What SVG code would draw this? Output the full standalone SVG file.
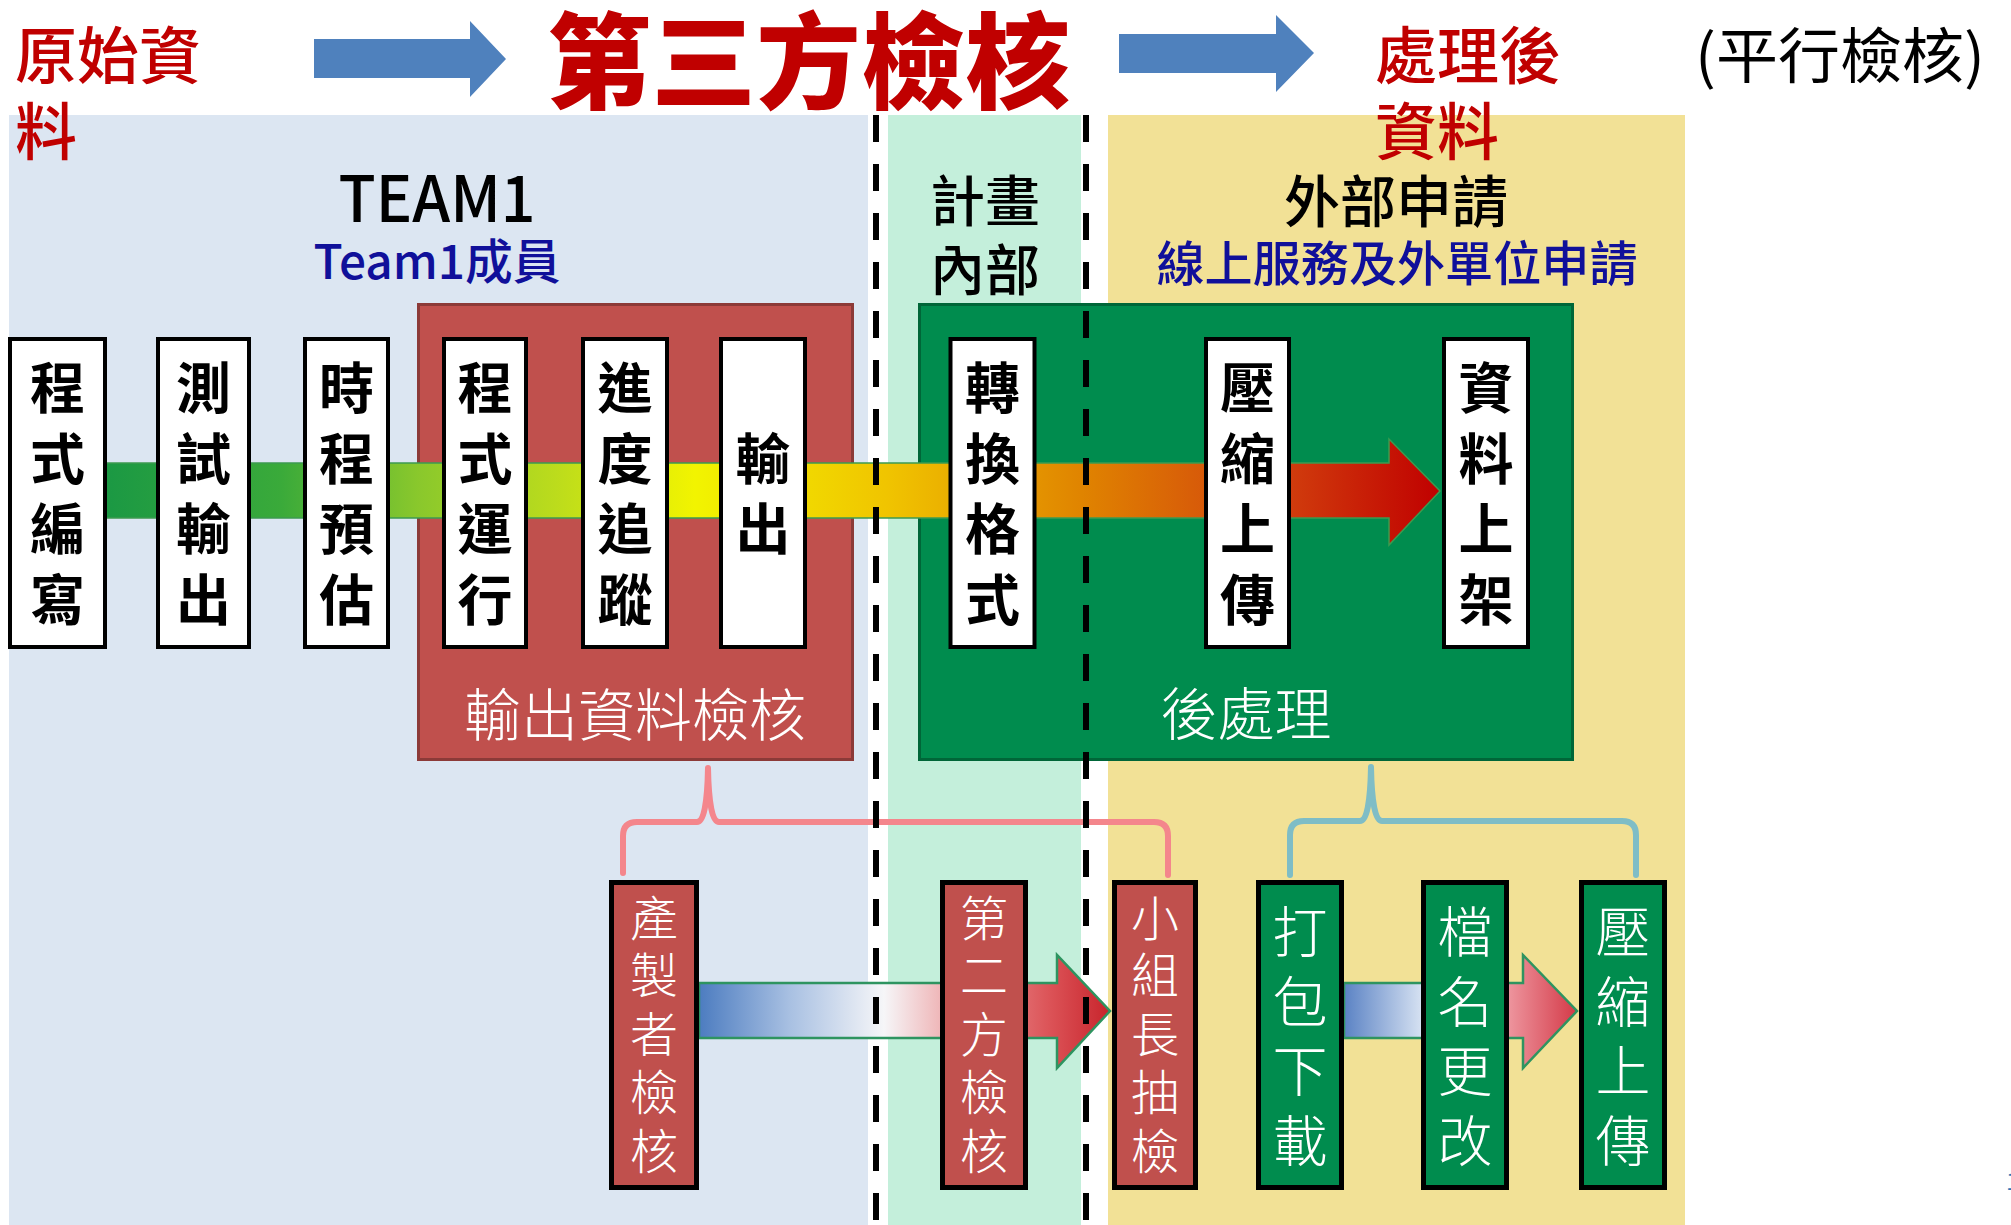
<svg xmlns="http://www.w3.org/2000/svg" width="2011" height="1225" viewBox="0 0 2011 1225">
<style>
.cjk{font-family:"Noto Sans CJK TC","Noto Sans CJK SC","Noto Sans",sans-serif}
.boxw{fill:#ffffff;stroke:#000;stroke-width:4}
.boxr{fill:#c0504d;stroke:#000;stroke-width:5}
.boxg{fill:#008c4e;stroke:#000;stroke-width:5}
.bt{font-family:"Noto Sans CJK TC","Noto Sans CJK SC",sans-serif;font-size:55px;font-weight:700;fill:#000;text-anchor:middle}
.rt{font-family:"Noto Sans CJK TC","Noto Sans CJK SC",sans-serif;font-size:48px;font-weight:300;fill:#fff;text-anchor:middle}
.gt{font-family:"Noto Sans CJK TC","Noto Sans CJK SC",sans-serif;font-size:55px;font-weight:300;fill:#fff;text-anchor:middle}
.lbl{font-family:"Noto Sans CJK TC","Noto Sans CJK SC",sans-serif;font-size:57px;font-weight:300;fill:#fff;text-anchor:middle}
.red{fill:#c00000;font-weight:500}
.navy{fill:#10109a;font-weight:500}
.dash{stroke:#000;stroke-width:6;stroke-dasharray:27 22;fill:none}
.brace{fill:none;stroke-width:6;stroke-linecap:round;stroke-linejoin:round}
.bluearrow{fill:#4f81bd}
</style>
<defs>
<linearGradient id="band" gradientUnits="userSpaceOnUse" x1="60" y1="0" x2="1440" y2="0">
<stop offset="0" stop-color="#139446"/>
<stop offset="0.16" stop-color="#3aaa3a"/>
<stop offset="0.26" stop-color="#8ac82c"/>
<stop offset="0.36" stop-color="#bcdc1c"/>
<stop offset="0.46" stop-color="#f2f400"/>
<stop offset="0.6" stop-color="#f0c400"/>
<stop offset="0.74" stop-color="#e08400"/>
<stop offset="0.88" stop-color="#d2420e"/>
<stop offset="1" stop-color="#c00000"/>
</linearGradient>
<linearGradient id="arrA" gradientUnits="userSpaceOnUse" x1="699" y1="0" x2="1110" y2="0">
<stop offset="0" stop-color="#4c7cc0"/>
<stop offset="0.22" stop-color="#a8c0e2"/>
<stop offset="0.45" stop-color="#f6f6f8"/>
<stop offset="0.65" stop-color="#ec9a9c"/>
<stop offset="0.85" stop-color="#dc5458"/>
<stop offset="1" stop-color="#c8242c"/>
</linearGradient>
<linearGradient id="arrB" gradientUnits="userSpaceOnUse" x1="1344" y1="0" x2="1577" y2="0">
<stop offset="0" stop-color="#5a82c4"/>
<stop offset="0.35" stop-color="#dce6f4"/>
<stop offset="0.65" stop-color="#f2a6ae"/>
<stop offset="1" stop-color="#d43a48"/>
</linearGradient>
</defs>

<!-- backgrounds -->
<rect x="0" y="0" width="2011" height="1225" fill="#ffffff"/>
<rect x="9" y="115" width="859" height="1110" fill="#dce6f2"/>
<rect x="888" y="115" width="193" height="1110" fill="#c4efdb"/>
<rect x="1108" y="115" width="577" height="1110" fill="#f2e196"/>

<!-- headings -->
<g id="title">
<text class="cjk red" x="15" y="79" font-size="62">原始資</text>
<text class="cjk red" x="15" y="155" font-size="62">料</text>
<polygon class="bluearrow" points="314,39 470,39 470,21 506,59 470,97 470,78 314,78"/>
<text class="cjk" fill="#c00000" x="547" y="101" font-size="104" font-weight="900" textLength="523" lengthAdjust="spacingAndGlyphs">第三方檢核</text>
<polygon class="bluearrow" points="1119,34 1276,34 1276,15 1314,53 1276,92 1276,73 1119,73"/>
<text class="cjk red" x="1375" y="79" font-size="62">處理後</text>
<text class="cjk red" x="1375" y="155" font-size="62">資料</text>
<text class="cjk" x="1695" y="78" font-size="60" fill="#000" textLength="290" lengthAdjust="spacingAndGlyphs">(平行檢核)</text>
</g>

<g id="team1-label">
<text class="cjk" x="437" y="222" font-size="64" font-weight="500" fill="#000" text-anchor="middle" textLength="197" lengthAdjust="spacingAndGlyphs">TEAM1</text>
<text class="cjk navy" x="437" y="279" font-size="48" text-anchor="middle" textLength="247" lengthAdjust="spacingAndGlyphs">Team1成員</text>
</g>
<g id="internal-label">
<text class="cjk" x="985" y="221" font-size="55" font-weight="500" fill="#000" text-anchor="middle">計畫</text>
<text class="cjk" x="985" y="290" font-size="55" font-weight="500" fill="#000" text-anchor="middle">內部</text>
</g>
<g id="external-label">
<text class="cjk" x="1396" y="222" font-size="56" font-weight="500" fill="#000" text-anchor="middle">外部申請</text>
<text class="cjk navy" x="1397" y="281" font-size="48" text-anchor="middle" textLength="481" lengthAdjust="spacingAndGlyphs">線上服務及外單位申請</text>
</g>

<!-- group boxes -->
<g id="group-output-check">
<rect x="418.5" y="304.5" width="434" height="455" fill="#c0504d" stroke="#8c3a38" stroke-width="3"/>
<text class="lbl" x="635" y="736">輸出資料檢核</text>
</g>
<g id="group-post">
<rect x="919.5" y="304.5" width="653" height="455" fill="#008c4e" stroke="#006638" stroke-width="3"/>
<text class="lbl" x="1246" y="735">後處理</text>
</g>

<!-- connectors -->
<g id="connectors">
<polygon points="60,463 1389,463 1389,439 1440,491 1389,545 1389,518 60,518" fill="url(#band)" stroke="#3c9a50" stroke-width="1.5"/>
<path class="brace" stroke="#f4868c" d="M623,873 L623,836 Q623,822 637,822 L697,822 Q707,822 708,768 Q709,822 719,822 L1154,822 Q1168,822 1168,836 L1168,875"/>
<path class="brace" stroke="#7fbdc6" d="M1290,875 L1290,835 Q1290,821 1304,821 L1360,821 Q1370,821 1371,767 Q1372,821 1382,821 L1622,821 Q1636,821 1636,835 L1636,875"/>
<polygon points="699,983 1057,983 1057,955 1110,1011 1057,1068 1057,1038 699,1038" fill="url(#arrA)" stroke="#2e9460" stroke-width="2.5"/>
<polygon points="1344,983 1523,983 1523,955 1577,1011 1523,1068 1523,1038 1344,1038" fill="url(#arrB)" stroke="#2e9460" stroke-width="2.5"/>
</g>

<!-- top row nodes -->
<g id="n-code-write"><rect class="boxw" x="10" y="339" width="95" height="308"/>
<text class="bt"><tspan x="57.5" y="408">程</tspan><tspan x="57.5" y="479">式</tspan><tspan x="57.5" y="549">編</tspan><tspan x="57.5" y="620">寫</tspan></text></g>
<g id="n-test-output"><rect class="boxw" x="158" y="339" width="91" height="308"/>
<text class="bt"><tspan x="203.5" y="408">測</tspan><tspan x="203.5" y="479">試</tspan><tspan x="203.5" y="549">輸</tspan><tspan x="203.5" y="620">出</tspan></text></g>
<g id="n-schedule"><rect class="boxw" x="305" y="339" width="83" height="308"/>
<text class="bt"><tspan x="346.5" y="408">時</tspan><tspan x="346.5" y="479">程</tspan><tspan x="346.5" y="549">預</tspan><tspan x="346.5" y="620">估</tspan></text></g>
<g id="n-run"><rect class="boxw" x="444" y="339" width="82" height="308"/>
<text class="bt"><tspan x="485" y="408">程</tspan><tspan x="485" y="479">式</tspan><tspan x="485" y="549">運</tspan><tspan x="485" y="620">行</tspan></text></g>
<g id="n-track"><rect class="boxw" x="583" y="339" width="84" height="308"/>
<text class="bt"><tspan x="625" y="408">進</tspan><tspan x="625" y="479">度</tspan><tspan x="625" y="549">追</tspan><tspan x="625" y="620">蹤</tspan></text></g>
<g id="n-output"><rect class="boxw" x="721" y="339" width="84" height="308"/>
<text class="bt"><tspan x="763" y="479">輸</tspan><tspan x="763" y="549">出</tspan></text></g>
<g id="n-convert"><rect class="boxw" x="950.5" y="339" width="84" height="308"/>
<text class="bt"><tspan x="992.5" y="408">轉</tspan><tspan x="992.5" y="479">換</tspan><tspan x="992.5" y="549">格</tspan><tspan x="992.5" y="620">式</tspan></text></g>
<g id="n-compress"><rect class="boxw" x="1206" y="339" width="83" height="308"/>
<text class="bt"><tspan x="1247.5" y="408">壓</tspan><tspan x="1247.5" y="479">縮</tspan><tspan x="1247.5" y="549">上</tspan><tspan x="1247.5" y="620">傳</tspan></text></g>
<g id="n-publish"><rect class="boxw" x="1444" y="339" width="84" height="308"/>
<text class="bt"><tspan x="1486" y="408">資</tspan><tspan x="1486" y="479">料</tspan><tspan x="1486" y="549">上</tspan><tspan x="1486" y="620">架</tspan></text></g>

<!-- bottom row nodes -->
<g id="n-producer"><rect class="boxr" x="611.5" y="882.5" width="85" height="305"/>
<text class="rt"><tspan x="654" y="936">產</tspan><tspan x="654" y="993">製</tspan><tspan x="654" y="1052">者</tspan><tspan x="654" y="1110">檢</tspan><tspan x="654" y="1169">核</tspan></text></g>
<g id="n-second"><rect class="boxr" x="942.5" y="882.5" width="83" height="305"/>
<text class="rt"><tspan x="984" y="936">第</tspan><tspan x="984" y="993">二</tspan><tspan x="984" y="1052">方</tspan><tspan x="984" y="1110">檢</tspan><tspan x="984" y="1169">核</tspan></text></g>
<g id="n-leader"><rect class="boxr" x="1114.5" y="882.5" width="81" height="305"/>
<text class="rt"><tspan x="1155" y="936">小</tspan><tspan x="1155" y="993">組</tspan><tspan x="1155" y="1052">長</tspan><tspan x="1155" y="1110">抽</tspan><tspan x="1155" y="1169">檢</tspan></text></g>
<g id="n-pack"><rect class="boxg" x="1258.5" y="882.5" width="83" height="305"/>
<text class="gt"><tspan x="1300" y="952">打</tspan><tspan x="1300" y="1022">包</tspan><tspan x="1300" y="1091">下</tspan><tspan x="1300" y="1161">載</tspan></text></g>
<g id="n-rename"><rect class="boxg" x="1423.5" y="882.5" width="83" height="305"/>
<text class="gt"><tspan x="1465" y="952">檔</tspan><tspan x="1465" y="1022">名</tspan><tspan x="1465" y="1091">更</tspan><tspan x="1465" y="1161">改</tspan></text></g>
<g id="n-upload"><rect class="boxg" x="1581.5" y="882.5" width="83" height="305"/>
<text class="gt"><tspan x="1623" y="952">壓</tspan><tspan x="1623" y="1022">縮</tspan><tspan x="1623" y="1091">上</tspan><tspan x="1623" y="1161">傳</tspan></text></g>

<!-- dashed separators -->
<g id="separators">
<line class="dash" x1="876" y1="115" x2="876" y2="1225"/>
<line class="dash" x1="1086" y1="115" x2="1086" y2="1225"/>
</g>

<text class="cjk" x="2006" y="1190" font-size="24" fill="#2e75b6">1</text>
</svg>
